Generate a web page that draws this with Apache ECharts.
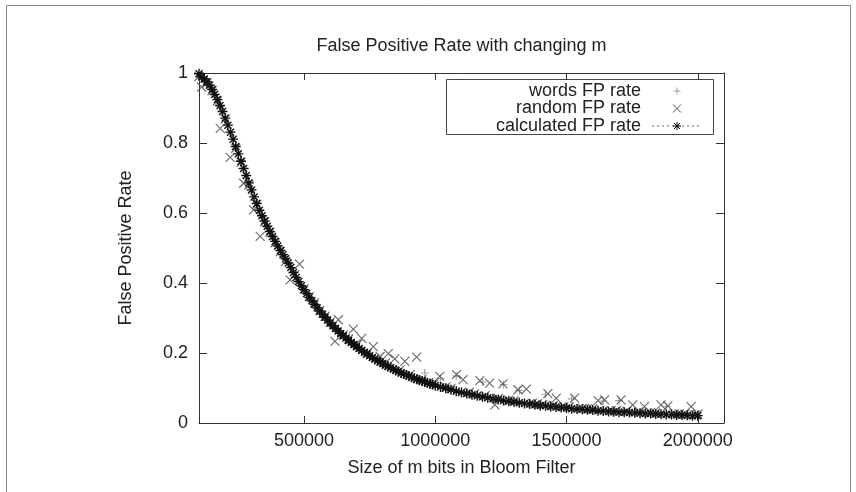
<!DOCTYPE html>
<html><head><meta charset="utf-8">
<script src="https://cdn.jsdelivr.net/npm/echarts@6/dist/echarts.min.js"></script>
<style>html,body{margin:0;padding:0;background:#fff}#c{width:856px;height:492px}</style>
</head><body><div id="c"></div>
<script>
const titleText = 'False Positive Rate with changing m';
const xName = 'Size of m bits in Bloom Filter';
const yName = 'False Positive Rate';
const seriesNames = ['words FP rate', 'random FP rate', 'calculated FP rate'];
const xTicks = [500000, 1000000, 1500000, 2000000];
const yTicks = [0, 0.2, 0.4, 0.6, 0.8, 1];

// m values in thousands of bits
const calcM = [100,110,120,130,140,150,160,170,180,190,
200,210,220,230,240,250,260,270,280,290,
300,310,320,330,340,350,360,370,380,390,
400,410,420,430,440,450,460,470,480,490,
500,510,520,530,540,550,560,570,580,590,
600,610,620,630,640,650,660,670,680,690,
700,710,720,730,740,750,760,770,780,790,
800,810,820,830,840,850,860,870,880,890,
900,910,920,930,940,950,960,970,980,990,
1000,
1020,1040,1060,1080,1100,1120,1140,1160,1180,1200,
1220,1240,1260,1280,1300,1320,1340,1360,1380,1400,
1420,1440,1460,1480,1500,1520,1540,1560,1580,1600,
1620,1640,1660,1680,1700,1720,1740,1760,1780,1800,
1820,1840,1860,1880,1900,1920,1940,1960,1980,2000];
const calcV = [.998,.989,.983,.975,.965,.953,.939,.924,.907,.890,
.871,.851,.831,.811,.790,.769,.748,.727,.707,.686,
.666,.646,.627,.608,.592,.577,.562,.547,.533,.519,
.506,.493,.481,.469,.457,.444,.430,.416,.404,.392,
.381,.370,.359,.349,.339,.329,.320,.311,.302,.294,
.286,.278,.270,.263,.256,.249,.243,.236,.230,.224,
.218,.213,.207,.202,.197,.192,.187,.183,.178,.174,
.170,.165,.162,.158,.154,.150,.147,.143,.140,.137,
.134,.131,.128,.125,.122,.120,.117,.115,.112,.110,
.107,
.103,.099,.095,.091,.087,.084,.081,.078,.075,.072,
.069,.067,.064,.062,.060,.058,.056,.054,.052,.050,
.049,.047,.046,.044,.043,.041,.040,.039,.038,.037,
.035,.034,.033,.032,.031,.031,.030,.029,.028,.027,
.027,.026,.025,.024,.024,.023,.023,.022,.021,.021];

const wordsM = [100,120,140,160,180,200,220,240,260,280,
300,320,340,360,380,400,420,440,460,480,
500,520,540,560,580,600,620,640,660,680,
700,720,740,760,780,800,820,840,860,880,
900,920,940,960,980,1000,1020,1040,1060,1080,
1100,1120,1140,1160,1180,1200,1220,1240,1260,1280,
1300,1320,1340,1360,1380,1400,1420,1440,1460,1480,
1500,1520,1540,1560,1580,1600,1620,1640,1660,1680,
1700,1720,1740,1760,1780,1800,1820,1840,1860,1880,
1900,1920,1940,1960,1980,2000];
const wordsV = [.99,.975,.96,.935,.905,.866,.83,.785,.75,.70,
.662,.63,.588,.558,.536,.503,.476,.455,.432,.398,
.38,.356,.342,.314,.305,.282,.272,.25,.247,.226,
.222,.203,.20,.184,.181,.166,.165,.152,.15,.138,
.136,.125,.125,.143,.114,.11,.128,.101,.097,.134,
.09,.086,.083,.08,.117,.074,.07,.068,.11,.063,
.061,.093,.057,.055,.053,.051,.082,.048,.047,.045,
.044,.069,.041,.04,.039,.038,.036,.063,.034,.033,
.064,.032,.031,.03,.029,.028,.028,.027,.026,.047,
.025,.024,.024,.023,.022,.022];

const randomM = [100,110,130,150,170,181,200,219,240,260,
270,290,308,320,333,350,370,390,410,430,
447,465,483,500,520,540,560,580,600,618,
631,650,670,688,704,720,740,764,790,810,
821,846,866,884,905,929,950,975,995,1017,
1040,1060,1081,1106,1130,1150,1170,1190,1207,1227,
1240,1258,1280,1300,1315,1347,1370,1390,1410,1429,
1450,1461,1490,1510,1531,1560,1580,1600,1620,1645,
1670,1690,1708,1730,1752,1775,1797,1820,1840,1860,
1886,1910,1930,1950,1975,1990,2000];
const randomV = [.99,.96,.972,.95,.92,.842,.868,.759,.785,.745,
.685,.68,.609,.625,.533,.575,.545,.515,.49,.462,
.409,.424,.454,.383,.362,.343,.322,.305,.288,.233,
.295,.252,.24,.268,.225,.242,.199,.218,.19,.172,
.198,.183,.152,.176,.138,.188,.124,.116,.112,.133,
.103,.099,.138,.124,.088,.083,.121,.078,.114,.052,
.07,.112,.065,.063,.095,.097,.057,.055,.053,.084,
.05,.071,.047,.046,.071,.042,.041,.04,.064,.066,
.036,.035,.066,.034,.052,.031,.047,.03,.029,.052,
.049,.027,.026,.025,.047,.024,.025];

const toPts = (ms, vs) => ms.map((m, i) => [m * 1000, vs[i]]);

const PLUS = 'path://M0,5L10,5M5,0L5,10';
const CROSS = 'path://M0,0L10,10M10,0L0,10';
const STAR = 'path://M0,5L10,5M5,0L5,10M1.5,1.5L8.5,8.5M8.5,1.5L1.5,8.5';

const FONT = '"Liberation Sans", Arial, Helvetica, sans-serif';
const TXT = '#222';
const AX = '#333';

const chart = echarts.init(document.getElementById('c'), null, {renderer: 'canvas'});

const commonX = {
  type: 'value', min: 100000, max: 2100000,
  splitLine: {show: false},
  axisLine: {show: true, onZero: false, lineStyle: {color: AX, width: 1}},
  axisTick: {show: true, inside: true, length: 7, customValues: xTicks, lineStyle: {color: AX}}
};
const commonY = {
  type: 'value', min: 0, max: 1, interval: 0.2,
  splitLine: {show: false},
  axisLine: {show: true, onZero: false, lineStyle: {color: AX, width: 1}},
  axisTick: {show: true, inside: true, length: 8, customValues: yTicks, lineStyle: {color: AX}}
};

// legend geometry (drawn as graphics, gnuplot style)
const LG = {x: 446.5, y: 79.5, w: 267, h: 55, textRight: 641, symX: 677, rows: [91, 108.5, 126]};
const legendGraphics = [
  {type: 'rect', shape: {x: LG.x, y: LG.y, width: LG.w, height: LG.h}, style: {fill: '#fff', stroke: '#444', lineWidth: 1}, z: 100},
  ...seriesNames.map((n, i) => ({type: 'text', x: LG.textRight, y: LG.rows[i], z: 101,
      style: {text: n, font: '18px ' + FONT, fill: TXT, textAlign: 'right', textVerticalAlign: 'middle'}})),
  {type: 'line', shape: {x1: LG.symX - 3.5, y1: LG.rows[0], x2: LG.symX + 3.5, y2: LG.rows[0]}, style: {stroke: '#999', lineWidth: 1}, z: 101},
  {type: 'line', shape: {x1: LG.symX, y1: LG.rows[0] - 3.5, x2: LG.symX, y2: LG.rows[0] + 3.5}, style: {stroke: '#999', lineWidth: 1}, z: 101},
  {type: 'line', shape: {x1: LG.symX - 4, y1: LG.rows[1] - 4, x2: LG.symX + 4, y2: LG.rows[1] + 4}, style: {stroke: '#555', lineWidth: 1}, z: 101},
  {type: 'line', shape: {x1: LG.symX + 4, y1: LG.rows[1] - 4, x2: LG.symX - 4, y2: LG.rows[1] + 4}, style: {stroke: '#555', lineWidth: 1}, z: 101},
  {type: 'line', shape: {x1: 652, y1: LG.rows[2], x2: 701, y2: LG.rows[2]}, style: {stroke: '#666', lineWidth: 1, lineDash: [2, 3]}, z: 101},
  {type: 'line', shape: {x1: LG.symX - 4, y1: LG.rows[2], x2: LG.symX + 4, y2: LG.rows[2]}, style: {stroke: '#000', lineWidth: 1}, z: 102},
  {type: 'line', shape: {x1: LG.symX, y1: LG.rows[2] - 4, x2: LG.symX, y2: LG.rows[2] + 4}, style: {stroke: '#000', lineWidth: 1}, z: 102},
  {type: 'line', shape: {x1: LG.symX - 3, y1: LG.rows[2] - 3, x2: LG.symX + 3, y2: LG.rows[2] + 3}, style: {stroke: '#000', lineWidth: 1}, z: 102},
  {type: 'line', shape: {x1: LG.symX + 3, y1: LG.rows[2] - 3, x2: LG.symX - 3, y2: LG.rows[2] + 3}, style: {stroke: '#000', lineWidth: 1}, z: 102}
];

const frame = [
  {type: 'polyline', shape: {points: [[6.5, 492], [6.5, 5.5], [850.5, 5.5], [850.5, 492]]}, style: {stroke: '#888', fill: null, lineWidth: 1}, z: 1}
];

chart.setOption({
  animation: false,
  backgroundColor: '#fff',
  textStyle: {fontFamily: FONT},
  title: {
    text: titleText, left: 461.5, top: 37, textAlign: 'center', padding: 0,
    textStyle: {fontSize: 18, fontWeight: 'normal', color: TXT, fontFamily: FONT}
  },
  grid: {left: 199, top: 73, right: 132, bottom: 69, containLabel: false},
  xAxis: [
    Object.assign({}, commonX, {
      position: 'bottom', name: xName, nameLocation: 'middle', nameGap: 36,
      nameTextStyle: {fontSize: 18, color: TXT, fontFamily: FONT},
      axisLabel: {show: true, customValues: xTicks, fontSize: 18, color: TXT, margin: 9, fontFamily: FONT,
        formatter: v => String(v)}
    }),
    Object.assign({}, commonX, {position: 'top', axisLabel: {show: false}})
  ],
  yAxis: [
    Object.assign({}, commonY, {
      position: 'left', name: yName, nameLocation: 'middle', nameGap: 64,
      nameTextStyle: {fontSize: 18, color: TXT, fontFamily: FONT},
      axisLabel: {show: true, fontSize: 18, color: TXT, margin: 11, fontFamily: FONT}
    }),
    Object.assign({}, commonY, {position: 'right', axisLabel: {show: false}})
  ],
  graphic: frame.concat(legendGraphics),
  series: [
    {
      name: seriesNames[0], type: 'scatter', xAxisIndex: 0, yAxisIndex: 0,
      data: toPts(wordsM, wordsV), symbol: PLUS, symbolSize: 8, silent: true,
      itemStyle: {color: 'rgba(0,0,0,0)', borderColor: '#8a8a8a', borderWidth: 1.1},
      emphasis: {disabled: true}, z: 2
    },
    {
      name: seriesNames[1], type: 'scatter', xAxisIndex: 0, yAxisIndex: 0,
      data: toPts(randomM, randomV), symbol: CROSS, symbolSize: 9, silent: true,
      itemStyle: {color: 'rgba(0,0,0,0)', borderColor: '#444', borderWidth: 1.1},
      emphasis: {disabled: true}, z: 3
    },
    {
      name: seriesNames[2], type: 'line', xAxisIndex: 0, yAxisIndex: 0,
      data: toPts(calcM, calcV), symbol: STAR, symbolSize: 10, showSymbol: true, silent: true,
      lineStyle: {color: '#222', width: 1.2, type: [2, 3]},
      itemStyle: {color: 'rgba(0,0,0,0)', borderColor: '#111', borderWidth: 1.4},
      emphasis: {disabled: true}, z: 4
    }
  ]
});
</script>
</body></html>
